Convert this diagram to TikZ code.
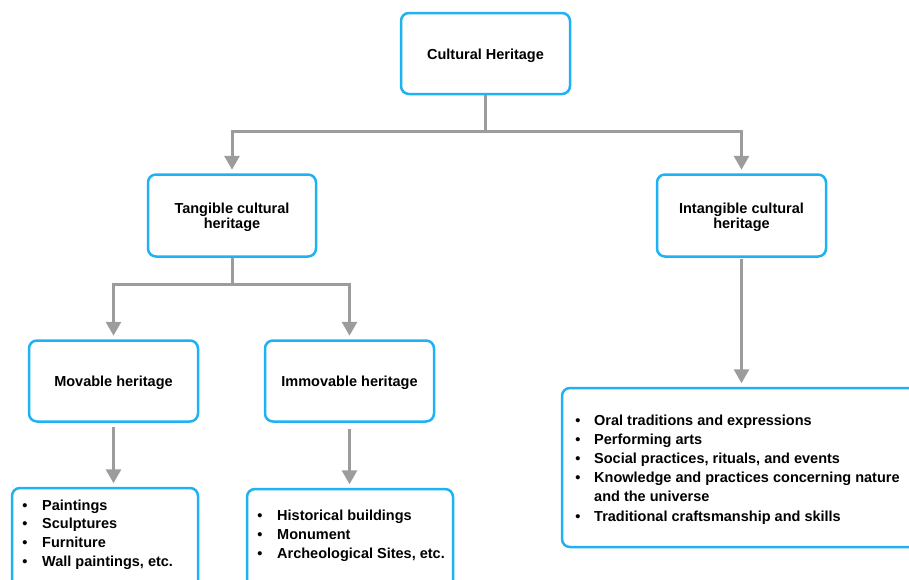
\documentclass[tikz,border=0pt]{standalone}
\usepackage{fontspec}
\setmainfont{Liberation Sans}
\usetikzlibrary{arrows.meta,calc}
\definecolor{boxblue}{HTML}{1EB2F5}
\definecolor{linegray}{HTML}{9C9C9C}
\begin{document}
\begin{tikzpicture}[x=1pt,y=-1pt,
  hbox/.style={draw=boxblue, line width=2.5pt, rounded corners=8pt, fill=white, inner sep=0pt},
  conn/.style={draw=linegray, line width=3pt, -{Triangle[length=14pt,width=15pt]}, shorten >=3.5pt},
  ttl/.style={anchor=base, inner sep=0pt, font=\bfseries\fontsize{14.5}{16}\selectfont},
  itm/.style={anchor=base west, inner sep=0pt, font=\bfseries\fontsize{14.5}{16}\selectfont},
  bul/.style={anchor=base, inner sep=0pt, font=\bfseries\fontsize{14.5}{16}\selectfont}]
\useasboundingbox (0,0) rectangle (909,579);
% boxes
\node[hbox, minimum width=169pt, minimum height=81pt] (ch) at (485.5,53.5) {};
\node[hbox, minimum width=168pt, minimum height=82pt] (tan) at (232,215.5) {};
\node[hbox, minimum width=169pt, minimum height=82pt] (intan) at (741.5,215.5) {};
\node[hbox, minimum width=169pt, minimum height=81pt] (mov) at (113.5,381) {};
\node[hbox, minimum width=169pt, minimum height=81pt] (imm) at (349.5,381) {};
\node[hbox, minimum width=186pt, minimum height=112pt] (movlist) at (105,544) {};
\node[hbox, minimum width=206pt, minimum height=111pt] (immlist) at (350,544.5) {};
\node[hbox, minimum width=368pt, minimum height=159pt] (intlist) at (746,467.5) {};
% connectors
\draw[conn] (ch.south) -- ++(0,36.5) -| (tan.north);
\draw[conn] (ch.south) -- ++(0,36.5) -| (intan.north);
\draw[conn] (tan.south) -- ++(0,26.5) -| (mov.north);
\draw[conn] (tan.south) -- ++(0,26.5) -| (imm.north);
\draw[conn, shorten <=4pt] (mov.south) -- (mov.south |- movlist.north);
\draw[conn, shorten <=6pt] (imm.south) -- (imm.south |- immlist.north);
\draw[conn, shorten <=1pt] (intan.south) -- (intan.south |- intlist.north);
% titles
\node[ttl] (cht) at (485.5,59) {Cultural Heritage};
\node[ttl] (tant1) at (232,213) {Tangible cultural};
\node[ttl] (tant2) at (232,228.5) {heritage};
\node[ttl] (intt1) at (741.5,213) {Intangible cultural};
\node[ttl] (intt2) at (741.5,228.5) {heritage};
\node[ttl] (movt) at (113.5,386.5) {Movable heritage};
\node[ttl] (immt) at (349.5,386.5) {Immovable heritage};
% movable list
\node[bul] (mb1) at (25,510) {\textbullet};
\node[bul] (mb2) at (25,528.8) {\textbullet};
\node[bul] (mb3) at (25,547.6) {\textbullet};
\node[bul] (mb4) at (25,566.4) {\textbullet};
\node[itm] (mi1) at (42,510) {Paintings};
\node[itm] (mi2) at (42,528.8) {Sculptures};
\node[itm] (mi3) at (42,547.6) {Furniture};
\node[itm] (mi4) at (42,566.4) {Wall paintings, etc.};
% immovable list
\node[bul] (ib1) at (260,520) {\textbullet};
\node[bul] (ib2) at (260,539) {\textbullet};
\node[bul] (ib3) at (260,558) {\textbullet};
\node[itm] (ii1) at (277,520) {Historical buildings};
\node[itm] (ii2) at (277,539) {Monument};
\node[itm] (ii3) at (277,558) {Archeological Sites, etc.};
% intangible list
\node[bul] (nb1) at (578,425.5) {\textbullet};
\node[bul] (nb2) at (578,444.6) {\textbullet};
\node[bul] (nb3) at (578,463.7) {\textbullet};
\node[bul] (nb4) at (578,482.8) {\textbullet};
\node[bul] (nb6) at (578,521) {\textbullet};
\node[itm] (ni1) at (594,425.5) {Oral traditions and expressions};
\node[itm] (ni2) at (594,444.6) {Performing arts};
\node[itm] (ni3) at (594,463.7) {Social practices, rituals, and events};
\node[itm] (ni4) at (594,482.8) {Knowledge and practices concerning nature};
\node[itm] (ni5) at (594,501.9) {and the universe};
\node[itm] (ni6) at (594,521) {Traditional craftsmanship and skills};
\end{tikzpicture}
\end{document}
